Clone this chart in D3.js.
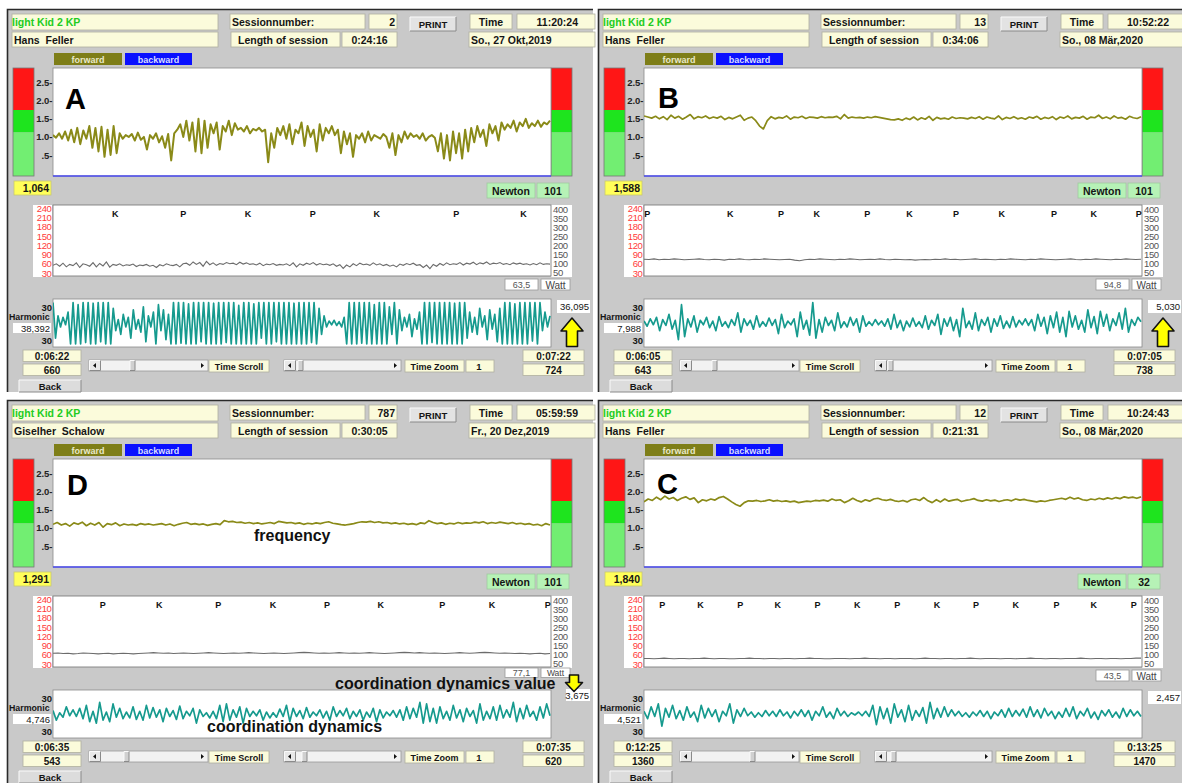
<!DOCTYPE html>
<html><head><meta charset="utf-8">
<script src="https://cdn.jsdelivr.net/npm/d3@7"></script>
<style>body{margin:0;background:#fff}svg{display:block;font-family:'Liberation Sans',Arial,sans-serif}text{white-space:pre}</style>
</head><body><svg id="c" width="1182" height="783"></svg>
<script>
// ---------- DATA ----------
const panelIds = ["A","B","D","C"];
const programName = "light Kid 2 KP";
const userNames = ["Hans  Feller","Hans  Feller","Giselher  Schalow","Hans  Feller"];
const sessionNos = ["2","13","787","12"];
const sessionLens = ["0:24:16","0:34:06","0:30:05","0:21:31"];
const clockTimes = ["11:20:24","10:52:22","05:59:59","10:24:43"];
const dates = ["So., 27 Okt,2019","So., 08 Mär,2020","Fr., 20 Dez,2019","So., 08 Mär,2020"];
const freqReadouts = ["1,064","1,588","1,291","1,840"];
const newtons = ["101","101","101","32"];
const wattReadouts = ["63,5","94,8","77,1","43,5"];
const harmLeft = ["38,392","7,988","4,746","4,521"];
const harmRight = ["36,095","5,030","3,675","2,457"];
const arrowDir = ["up","up","down","none"];
const startTimes = ["0:06:22","0:06:05","0:06:35","0:12:25"];
const startIdx = ["660","643","543","1360"];
const endTimes = ["0:07:22","0:07:05","0:07:35","0:13:25"];
const endIdx = ["724","738","620","1470"];

const freqTicks = [2.5,2.0,1.5,1.0,0.5];
const freqTickLabels = ["2.5-","2.0-","1.5-","1.0-",".5-"];
const wattTicksLeft = [240,210,180,150,120,90,60,30];
const wattTicksRight = [400,350,300,250,200,150,100,50];

// event markers (seconds within 60 s window)
const kpLetters = [
  ["K","P","K","P","K","P","K"],
  ["P","K","P","K","P","K","P","K","P","K","P"],
  ["P","K","P","K","P","K","P","K","P"],
  ["P","K","P","K","P","K","P","K","P","K","P","K","P"]
];
const kpTimes = [
  [7.5,15.7,23.5,31.3,39.0,48.6,56.7],
  [0.4,10.4,16.5,20.8,26.9,32.0,37.6,43.1,49.4,54.2,59.6],
  [6.0,12.8,19.9,26.5,33.0,39.5,46.9,52.9,59.6],
  [2.2,6.8,11.6,16.1,20.9,25.7,30.5,35.3,40.0,44.8,49.7,54.2,59.0]
];

const freqA = [1.05,0.98,1.10,0.95,1.15,0.90,1.20,0.85,1.25,0.80,
1.18,0.95,1.30,0.70,1.25,0.60,1.28,0.45,1.20,0.50,
1.30,0.55,1.10,0.95,1.05,1.00,1.08,0.90,1.12,0.92,
1.00,0.65,1.05,0.95,1.10,0.85,1.02,0.70,1.08,0.35,
1.10,1.20,1.35,1.00,1.45,0.90,1.40,0.60,1.50,0.55,
1.45,0.70,1.35,1.10,1.40,0.65,1.30,1.15,1.45,1.05,
1.38,1.20,1.25,1.15,1.30,1.10,1.22,1.18,1.25,1.15,
1.20,0.30,1.10,0.70,1.25,1.05,1.30,0.95,1.35,0.80,
1.20,1.10,1.40,0.75,1.30,1.00,1.20,0.60,1.35,0.90,
1.25,1.10,1.30,1.05,1.20,0.55,1.15,0.80,1.10,0.45,
1.05,0.95,1.10,0.85,1.15,0.90,1.05,1.00,0.95,1.08,
1.00,0.70,1.10,0.50,1.05,0.85,1.15,0.95,1.10,1.00,
1.05,0.95,1.10,0.90,1.00,1.05,0.98,0.60,1.10,0.40,
1.05,0.35,1.15,0.55,1.10,0.40,1.20,0.60,1.25,0.85,
1.30,1.00,1.20,0.75,1.35,1.10,1.30,0.90,1.40,1.20,
1.35,1.25,1.45,1.15,1.40,1.30,1.50,1.25,1.38,1.30,
1.45,1.28,1.40,1.35,1.45];
const freqB = [1.58,1.55,1.52,1.57,1.50,1.56,1.48,1.60,1.52,1.57,
1.49,1.55,1.62,1.50,1.56,1.53,1.58,1.51,1.55,1.52,
1.57,1.48,1.54,1.50,1.55,1.60,1.46,1.52,1.55,1.45,
1.30,1.22,1.45,1.56,1.50,1.54,1.52,1.58,1.49,1.55,
1.53,1.57,1.51,1.55,1.54,1.52,1.56,1.53,1.55,1.54,
1.57,1.50,1.62,1.52,1.55,1.53,1.54,1.52,1.55,1.53,
1.56,1.54,1.52,1.50,1.48,1.47,1.50,1.46,1.52,1.48,
1.55,1.47,1.53,1.49,1.57,1.46,1.54,1.50,1.52,1.49,
1.55,1.51,1.53,1.52,1.50,1.54,1.51,1.56,1.49,1.55,
1.52,1.50,1.58,1.48,1.54,1.51,1.56,1.50,1.53,1.49,
1.55,1.52,1.57,1.49,1.54,1.51,1.56,1.48,1.55,1.52,
1.58,1.50,1.54,1.52,1.57,1.49,1.55,1.53,1.60,1.51,
1.55,1.50,1.58,1.52,1.54,1.49,1.57,1.53,1.51,1.56];
const freqD = [1.10,1.15,1.08,1.12,1.05,1.14,1.10,1.16,1.06,1.13,
1.08,1.15,1.02,1.12,1.09,1.14,1.06,1.11,1.08,1.10,
1.07,1.12,1.09,1.11,1.08,1.10,1.12,1.08,1.11,1.06,
1.10,1.13,1.15,1.10,1.12,1.09,1.11,1.07,1.10,1.12,
1.09,1.20,1.17,1.18,1.15,1.16,1.13,1.15,1.12,1.14,
1.11,1.13,1.15,1.12,1.18,1.16,1.14,1.15,1.12,1.14,
1.10,1.13,1.11,1.14,1.12,1.15,1.17,1.13,1.11,1.09,
1.08,1.10,1.12,1.15,1.17,1.16,1.18,1.15,1.17,1.14,
1.15,1.12,1.14,1.11,1.13,1.10,1.12,1.09,1.14,1.12,
1.20,1.15,1.12,1.14,1.10,1.13,1.11,1.15,1.12,1.14,
1.13,1.16,1.14,1.17,1.12,1.15,1.13,1.16,1.14,1.12,
1.15,1.11,1.13,1.10,1.12,1.08,1.10,1.06,1.12,1.08];
const freqC = [1.72,1.80,1.76,1.85,1.78,1.88,1.80,1.84,1.76,1.82,
1.86,1.79,1.83,1.70,1.78,1.75,1.80,1.77,1.84,1.87,
1.80,1.72,1.65,1.60,1.70,1.75,1.74,1.76,1.73,1.75,
1.78,1.74,1.76,1.73,1.75,1.72,1.74,1.70,1.72,1.74,
1.73,1.76,1.75,1.77,1.74,1.80,1.76,1.78,1.70,1.75,
1.82,1.76,1.72,1.78,1.74,1.80,1.82,1.78,1.76,1.79,
1.75,1.73,1.76,1.72,1.78,1.80,1.76,1.84,1.75,1.70,
1.78,1.72,1.80,1.74,1.77,1.79,1.73,1.76,1.78,1.81,
1.76,1.74,1.78,1.75,1.77,1.73,1.76,1.78,1.75,1.80,
1.77,1.79,1.76,1.74,1.72,1.75,1.73,1.76,1.78,1.80,
1.82,1.79,1.85,1.80,1.83,1.78,1.76,1.80,1.78,1.82,
1.79,1.83,1.80,1.84,1.81,1.86,1.83,1.85,1.82,1.86];

const wattA = [55,60,52,62,50,58,54,63,48,60,
57,52,64,50,61,53,66,49,58,55,
60,53,57,55,59,51,56,54,58,52,
55,48,57,53,60,56,54,58,50,60,
62,55,66,58,64,52,68,57,63,55,
61,58,64,60,62,57,65,59,63,58,
60,56,62,54,59,57,61,55,58,56,
60,54,63,50,60,55,62,58,64,56,
61,57,59,55,60,52,57,45,56,50,
60,54,62,57,59,55,63,56,60,54,
58,52,56,50,59,55,61,57,62,55,
57,48,56,44,58,52,61,55,63,57,
60,58,64,56,62,59,65,57,63,60,
66,58,62,60,64,58,61,57,63,59,
62,58,60,56,61,57,63,58,60,59];
const wattB = [75,74,76,73,75,74,76,75,73,74,
75,76,74,73,75,74,72,75,74,76,
74,73,75,74,76,75,74,73,74,75,
72,70,73,75,74,76,75,74,73,75,
74,76,75,73,74,75,74,76,74,73,
75,74,73,74,72,73,74,73,75,74,
76,74,75,73,74,75,76,74,75,74,
73,75,74,76,75,74,73,75,74,76,
75,74,73,74,75,76,74,73,75,74,
76,75,74,73,75,74,76,75,74,75];
const wattD = [65,66,64,65,63,64,66,65,64,63,
64,65,63,64,65,64,63,64,65,66,
67,66,65,66,64,65,66,65,64,65,
66,67,66,65,64,65,66,65,66,67,
66,65,64,65,66,65,64,65,66,67,
68,67,66,65,66,65,66,67,66,65,
66,65,66,67,66,65,64,65,66,67,
68,67,66,67,66,65,66,65,64,65,
66,67,66,65,66,67,68,67,66,65,
66,65,64,65,64,63,64,65,63,64];
const wattC = [48,48,47,48,49,48,47,48,48,47,
48,48,49,48,47,48,48,47,47,48,
48,49,48,48,47,48,48,47,48,48,
47,48,48,49,48,48,47,47,48,48,
48,47,48,48,49,48,48,47,48,48,
47,48,48,48,47,48,49,48,48,47,
48,48,47,48,48,49,48,47,48,48,
48,47,48,48,47,48,48,49,48,48,
47,48,48,47,48,48,48,49,48,47,
48,48,47,48,48,47,48,48,49,49];

const harmA = [28,-20,10,-5,8,-2,15,
-28,28,-28,25,-28,28,-26,28,-28,27,-28,28,-25,28,-28,28,-28,20,
-10,5,-15,12,-5,8,-20,18,-8,5,-12,22,-25,10,-5,15,-28,25,-10,18,-22,12,
-28,28,-28,28,-27,28,-28,26,-28,28,-28,28,-25,28,-28,28,-28,27,-28,28,-28,28,-26,28,-28,28,-28,24,
-28,28,-28,28,-28,26,-28,28,-20,28,-28,28,-28,28,-25,28,-28,28,-28,28,-28,27,-28,28,-28,28,-28,28,-26,28,-28,20,-15,10,-5,3,
-2,4,-3,2,-5,8,
-28,28,-28,28,-28,28,-27,28,-28,28,-28,25,-28,28,-28,28,-28,22,-15,28,-28,18,
-10,8,-5,12,-18,6,-8,15,
-28,28,-28,28,-26,28,-28,28,-28,28,-28,28,-28,27,-28,28,-28,28,-20,15,
-12,8,-15,20,-5,10,-22,18,-8,12,-25,20,
-28,28,-28,28,-28,26,-28,28,-28,28,-28,28,-24,28,-28,28,-10,15,-5,10];
const harmB = [3,-4,6,-2,8,-10,5,-3,12,-8,
4,-22,25,-18,6,-5,10,-12,4,-2,
8,-6,3,-10,9,-4,2,-6,5,-3,
14,-12,6,-3,4,-8,10,-5,2,-4,
7,-3,5,-14,12,-6,3,-2,6,-18,
15,-8,4,-16,28,-20,5,-12,8,-3,
4,-10,14,-6,2,-5,8,-3,6,-12,
10,-4,2,-3,5,-2,3,-4,6,-8,
12,-6,4,-10,3,-5,7,-4,2,-6,
10,-8,4,-3,12,-15,6,-4,8,-10,
5,-18,20,-6,3,-8,14,-10,5,-3,
8,-12,6,-4,10,-7,3,-6,9,-5,
4,-2,6,-3,5,-10,12,-4,8,-14,
10,-6,15,-12,8,-18,16,-5,10,-8,
4,-12,18,-6,9,-14,16,-4,12,-10,
6,-3,14,-8,20,-12,5,-3,8,2];
const harmD = [5,-8,2,-4,10,-2,6,-3,8,-6,
12,-10,4,-12,16,-8,3,-10,14,-4,
8,-6,3,-5,10,-7,4,-8,12,-5,
9,-4,6,-10,8,-3,5,-7,11,-6,
4,-2,8,-12,6,-3,2,-5,4,-6,
12,-10,14,-8,6,-4,10,-12,8,-3,
4,-2,6,-8,3,-5,2,-4,7,-3,
12,-10,8,-3,5,-6,9,-4,3,-2,
6,-5,4,-8,10,-3,5,-2,8,-6,
4,-3,6,-8,3,-4,8,-10,6,-5,
3,-2,5,-4,6,-8,10,-6,8,-4,
16,-12,14,-10,8,-12,10,-6,4,-8,
12,-5,6,-10,8,-3,5,-12,14,-8,
4,-6,10,-8,12,-5,6,-4,16,-10,
8,-6,12,-3,4,-8,10,-5,14,-2];
const harmC = [4,-6,10,-3,14,-16,8,-4,12,-6,
5,-8,10,-4,3,-10,12,-5,8,-3,
6,-10,4,-2,14,-12,6,-3,8,-2,
3,-4,2,-3,5,-2,4,-3,6,-2,
3,-5,4,-2,6,-3,5,-8,4,-2,
10,-4,3,-6,8,-2,4,-3,2,-1,
3,-2,4,-3,12,-14,10,-6,8,-12,
14,-4,6,-10,12,-8,5,-3,9,-12,
16,-6,8,-4,10,-3,6,-2,4,-3,
2,-4,3,-2,5,-3,4,-6,3,-2,
6,-4,8,-3,5,-2,7,-4,10,-3,
6,-5,8,-2,4,-6,3,-4,8,-3,
10,-6,4,-2,8,-5,3,-7,5,-2,
6,-4,3,-5,8,-3,6,-2,4,-3];

const freqSeries = [freqA, freqB, freqD, freqC];
const wattSeries = [wattA, wattB, wattD, wattC];
const harmSeries = [harmA, harmB, harmD, harmC];

// annotations (panel D only)
const annotations = [[], [], [
  {text:"frequency", x:254, y:150},
  {text:"coordination dynamics value", x:335, y:297.5},
  {text:"coordination dynamics", x:207, y:341}
], []];

// ---------- LAYOUT ----------
const offsets = [[0,0],[591,0],[0,391],[591,391]];
const letterPos = [[65,109],[67,108],[67,104],[66,103]];
const thumb1 = [130,121,124,159];
const thumb2 = [298,297,302,300];

const svg = d3.select("#c");
const PANEL_BG = "#c9c9c9", PALE = "#fbfbdb";

function rect(g,x,y,w,h,fill,stroke,sw){
  return g.append("rect").attr("x",x).attr("y",y).attr("width",w).attr("height",h)
    .attr("fill",fill).attr("stroke",stroke||"none").attr("stroke-width",sw||0.8);
}
function txt(g,x,y,s,o){
  o=o||{};
  return g.append("text").attr("x",x).attr("y",y).text(s)
    .attr("font-size",o.size||10.5).attr("font-weight",o.w||"bold")
    .attr("fill",o.fill||"#151515").attr("text-anchor",o.anchor||"start");
}
function raised(g,x,y,w,h,fill){
  rect(g,x,y,w,h,fill);
  g.append("path").attr("d",`M${x},${y+h}V${y}H${x+w}`).attr("stroke","#fafafa").attr("fill","none");
  g.append("path").attr("d",`M${x},${y+h}H${x+w}V${y}`).attr("stroke","#8a8a8a").attr("fill","none");
}
function scrollbar(g,x,w,thumbX){
  const y=360,h=11;
  rect(g,x,y,w,h,"#f2f2f2","#9a9a9a",0.8);
  raised(g,x+0.5,y+0.5,11,h-1,"#e8e8e8");
  g.append("path").attr("d",`M${x+4},${y+h/2}L${x+7},${y+3}V${y+h-3}Z`).attr("fill","#111");
  raised(g,thumbX,y+0.5,5,h-1,"#d0d0d0");
  g.append("path").attr("d",`M${x+w-4},${y+h/2}L${x+w-7},${y+3}V${y+h-3}Z`).attr("fill","#111");
}

// scales (panel-relative)
const xT = d3.scaleLinear().domain([0,60]).range([53,551]);
const yF = d3.scaleLinear().domain([0.5,2.5]).range([155,82.7]);
const yWL = d3.scaleLinear().domain([30,240]).range([273,208.5]);
const yWR = d3.scaleLinear().domain([50,400]).range([272,209]);
const yH = d3.scaleLinear().domain([-30,30]).range([345.5,301]);

function drawPanel(i){
  const [ox,oy] = offsets[i];
  const g = svg.append("g").attr("transform",`translate(${ox},${oy})`);
  rect(g,7,9,586,383,PANEL_BG);
  g.append("path").attr("d","M7.5,392V9.5H593").attr("stroke","#2a2a2a").attr("stroke-width",1.6).attr("fill","none");

  // header
  rect(g,12,14,206,16,PALE,"#b0b0a0");
  txt(g,12,26,programName,{fill:"#22cc22",size:10.5});
  rect(g,12,32,206,15,PALE,"#b0b0a0");
  txt(g,14,43.5,userNames[i],{size:10.5});
  rect(g,230,14,135,15,PALE,"#b0b0a0");
  txt(g,232,25.5,"Sessionnumber:",{size:10.5});
  rect(g,369,14,28,15,PALE,"#b0b0a0");
  txt(g,395,25.5,sessionNos[i],{anchor:"end"});
  rect(g,231,32,109,15,PALE,"#b0b0a0");
  txt(g,238,43.5,"Length of session",{size:10.5});
  rect(g,342,32,55,15,PALE,"#b0b0a0");
  txt(g,369.5,43.5,sessionLens[i],{anchor:"middle"});
  raised(g,410,17,46,14,"#e3e3e3");
  txt(g,433,28,"PRINT",{anchor:"middle",size:9.5});
  rect(g,470,14,42,15,PALE,"#b0b0a0");
  txt(g,491,25.5,"Time",{anchor:"middle"});
  rect(g,517,14,78,15,PALE,"#b0b0a0");
  txt(g,578,25.5,clockTimes[i],{anchor:"end"});
  rect(g,469,32,126,15,PALE,"#b0b0a0");
  txt(g,471,43.5,dates[i],{size:10.5});

  // forward/backward
  rect(g,54,53,68,12,"#7e7e18");
  txt(g,88,62.5,"forward",{anchor:"middle",size:9,fill:"#e9e9c8"});
  rect(g,125,53,67,12,"#0a10ff");
  txt(g,158.5,62.5,"backward",{anchor:"middle",size:9,fill:"#d8dcff"});

  // color bars
  [[13,34],[551,572]].forEach(([x0,x1])=>{
    rect(g,x0,68,x1-x0,42,"#ff1616");
    rect(g,x0,110,x1-x0,22.5,"#1ee41e");
    rect(g,x0,132.5,x1-x0,43.5,"#72ee72");
    rect(g,x0,68,x1-x0,108,"none","#777",0.8);
  });

  // frequency plot
  rect(g,53,68,498,108,"#fff","#8a8a8a",0.8);
  const clipF = "clipF"+i;
  g.append("clipPath").attr("id",clipF).append("rect").attr("x",53).attr("y",68).attr("width",498).attr("height",108);
  const fs = freqSeries[i];
  const xF = d3.scaleLinear().domain([0,fs.length-1]).range([53,550]);
  g.append("path").datum(fs).attr("clip-path",`url(#${clipF})`)
    .attr("d",d3.line().x((d,k)=>xF(k)).y(d=>yF(d)))
    .attr("fill","none").attr("stroke","#8a8a18").attr("stroke-width",i===0?2:1.7).attr("stroke-linejoin","round");
  g.append("line").attr("x1",53).attr("x2",551).attr("y1",176).attr("y2",176).attr("stroke","#4a4af0").attr("stroke-width",1.6);
  const axF = g.append("g").attr("transform","translate(52.5,0)")
    .call(d3.axisLeft(yF).tickValues(freqTicks).tickFormat((d,k)=>freqTickLabels[k]).tickSize(0).tickPadding(0));
  axF.select(".domain").remove();
  axF.selectAll("text").attr("font-size",9.5).attr("font-weight","bold").attr("fill","#222").attr("font-family","'Liberation Sans',Arial,sans-serif");
  txt(g,letterPos[i][0],letterPos[i][1],panelIds[i],{size:29,fill:"#000"});

  // readouts
  rect(g,14,181,37,14,"#ffff5a","#c8c870");
  txt(g,49,192,freqReadouts[i],{anchor:"end"});
  rect(g,487,183,48,15,"#b6f2b6","#a0c8a0");
  txt(g,511,194.5,"Newton",{anchor:"middle"});
  rect(g,537,183,32,15,"#b6f2b6","#a0c8a0");
  txt(g,553,194.5,newtons[i],{anchor:"middle"});

  // watt plot
  rect(g,33,205,19,72,"#fff");
  rect(g,551,205,21,72,"#fff");
  rect(g,53,205,498,71,"#fff","#7e7e7e",0.9);
  const clipW = "clipW"+i;
  g.append("clipPath").attr("id",clipW).append("rect").attr("x",53).attr("y",205).attr("width",498).attr("height",71);
  const ws = wattSeries[i];
  const xW = d3.scaleLinear().domain([0,ws.length-1]).range([53,550]);
  g.append("path").datum(ws).attr("clip-path",`url(#${clipW})`)
    .attr("d",d3.line().x((d,k)=>xW(k)).y(d=>yWL(d)))
    .attr("fill","none").attr("stroke","#6c6c6c").attr("stroke-width",1.1);
  g.append("g").attr("clip-path",`url(#${clipW})`).selectAll("text").data(kpLetters[i]).join("text")
    .attr("x",(d,k)=>xT(kpTimes[i][k])).attr("y",217).attr("text-anchor","middle")
    .attr("font-size",9).attr("font-weight","bold").attr("fill","#111").text(d=>d);
  const axL = g.append("g").attr("transform","translate(52,0)")
    .call(d3.axisLeft(yWL).tickValues(wattTicksLeft).tickSize(0).tickPadding(0.5));
  axL.select(".domain").remove();
  axL.selectAll("text").attr("font-size",9.5).attr("fill","#ff3a3a").attr("font-family","'Liberation Sans Narrow','Liberation Sans',Arial,sans-serif").attr("letter-spacing",-0.4);
  const axR = g.append("g").attr("transform","translate(552,0)")
    .call(d3.axisRight(yWR).tickValues(wattTicksRight).tickSize(0).tickPadding(1));
  axR.select(".domain").remove();
  axR.selectAll("text").attr("font-size",9.5).attr("fill","#555").attr("font-family","'Liberation Sans Narrow','Liberation Sans',Arial,sans-serif").attr("letter-spacing",-0.4);
  const wy = arrowDir[i]==="down" ? 277 : 279;
  const wh = arrowDir[i]==="down" ? 9.5 : 11;
  rect(g,505,wy,33,wh,"#fff","#9a9a9a");
  txt(g,521.5,wy+wh-2,wattReadouts[i],{anchor:"middle",size:9,w:"normal",fill:"#555"});
  rect(g,541,wy,29,wh,"#fff","#9a9a9a");
  txt(g,555.5,wy+wh-1.5,"Watt",{anchor:"middle",size:wh<10?8.5:10,w:"normal",fill:"#444"});

  // harmonic plot
  rect(g,53,299,498,48,"#fff","#8a8a8a",0.8);
  const clipH = "clipH"+i;
  g.append("clipPath").attr("id",clipH).append("rect").attr("x",53).attr("y",299).attr("width",498).attr("height",48);
  const hs = harmSeries[i];
  const xH = d3.scaleLinear().domain([0,hs.length-1]).range([53,550]);
  g.append("path").datum(hs).attr("clip-path",`url(#${clipH})`)
    .attr("d",d3.line().x((d,k)=>xH(k)).y(d=>yH(d)))
    .attr("fill","none").attr("stroke","#169a8e").attr("stroke-width",1.7).attr("stroke-linejoin","round");
  txt(g,52,310.5,"30",{anchor:"end",size:9.5});
  txt(g,9,320,"Harmonic",{size:8.8});
  rect(g,13,323,38,10,"#fff");
  txt(g,50,331.5,harmLeft[i],{anchor:"end",size:9.5,w:"normal"});
  txt(g,52,343.5,"30",{anchor:"end",size:9.5});
  if(arrowDir[i]==="down"){
    rect(g,566,298,24,12,"#fff");
    txt(g,589,308,harmRight[i],{anchor:"end",size:9.5,w:"normal"});
  } else {
    rect(g,557,300,33,13,"#fff");
    txt(g,589,310,harmRight[i],{anchor:"end",size:9.5,w:"normal"});
  }
  if(arrowDir[i]==="up"){
    g.append("path").attr("d","M572,318L583,331H577.5V346.5H566.5V331H561Z")
      .attr("fill","#ffff00").attr("stroke","#111").attr("stroke-width",1.6).attr("stroke-linejoin","round");
  } else if(arrowDir[i]==="down"){
    g.append("path").attr("d","M569.5,284H578.5V291.5H582.5L574,300.5L565.5,291.5H569.5Z")
      .attr("fill","#ffff00").attr("stroke","#111").attr("stroke-width",1.6).attr("stroke-linejoin","round");
  }

  // bottom controls
  rect(g,23,350,58,11.5,PALE,"#b0b0a0");
  txt(g,52,359.5,startTimes[i],{anchor:"middle",size:10});
  rect(g,23,364,58,11.5,PALE,"#b0b0a0");
  txt(g,52,373.5,startIdx[i],{anchor:"middle",size:10});
  scrollbar(g,89,119,thumb1[i]);
  rect(g,209,360,60,12,PALE,"#b0b0a0");
  txt(g,239,369.5,"Time Scroll",{anchor:"middle",size:9});
  scrollbar(g,284,117,thumb2[i]);
  rect(g,405,360,59,12,PALE,"#b0b0a0");
  txt(g,434.5,369.5,"Time Zoom",{anchor:"middle",size:9});
  rect(g,466,360,28,12,PALE,"#b0b0a0");
  txt(g,479,369.5,"1",{anchor:"middle",size:9.5});
  rect(g,523,350,61,11.5,PALE,"#b0b0a0");
  txt(g,553.5,359.5,endTimes[i],{anchor:"middle",size:10});
  rect(g,523,364,61,11.5,PALE,"#b0b0a0");
  txt(g,553.5,373.5,endIdx[i],{anchor:"middle",size:10});
  raised(g,19,380,62,12,"#dcdcdc");
  txt(g,50,389.5,"Back",{anchor:"middle",size:9.5});

  // annotations
  annotations[i].forEach(a=>{
    txt(g,a.x,a.y,a.text,{size:16,fill:"#111"});
  });
}

[0,1,2,3].forEach(drawPanel);
</script></body></html>
